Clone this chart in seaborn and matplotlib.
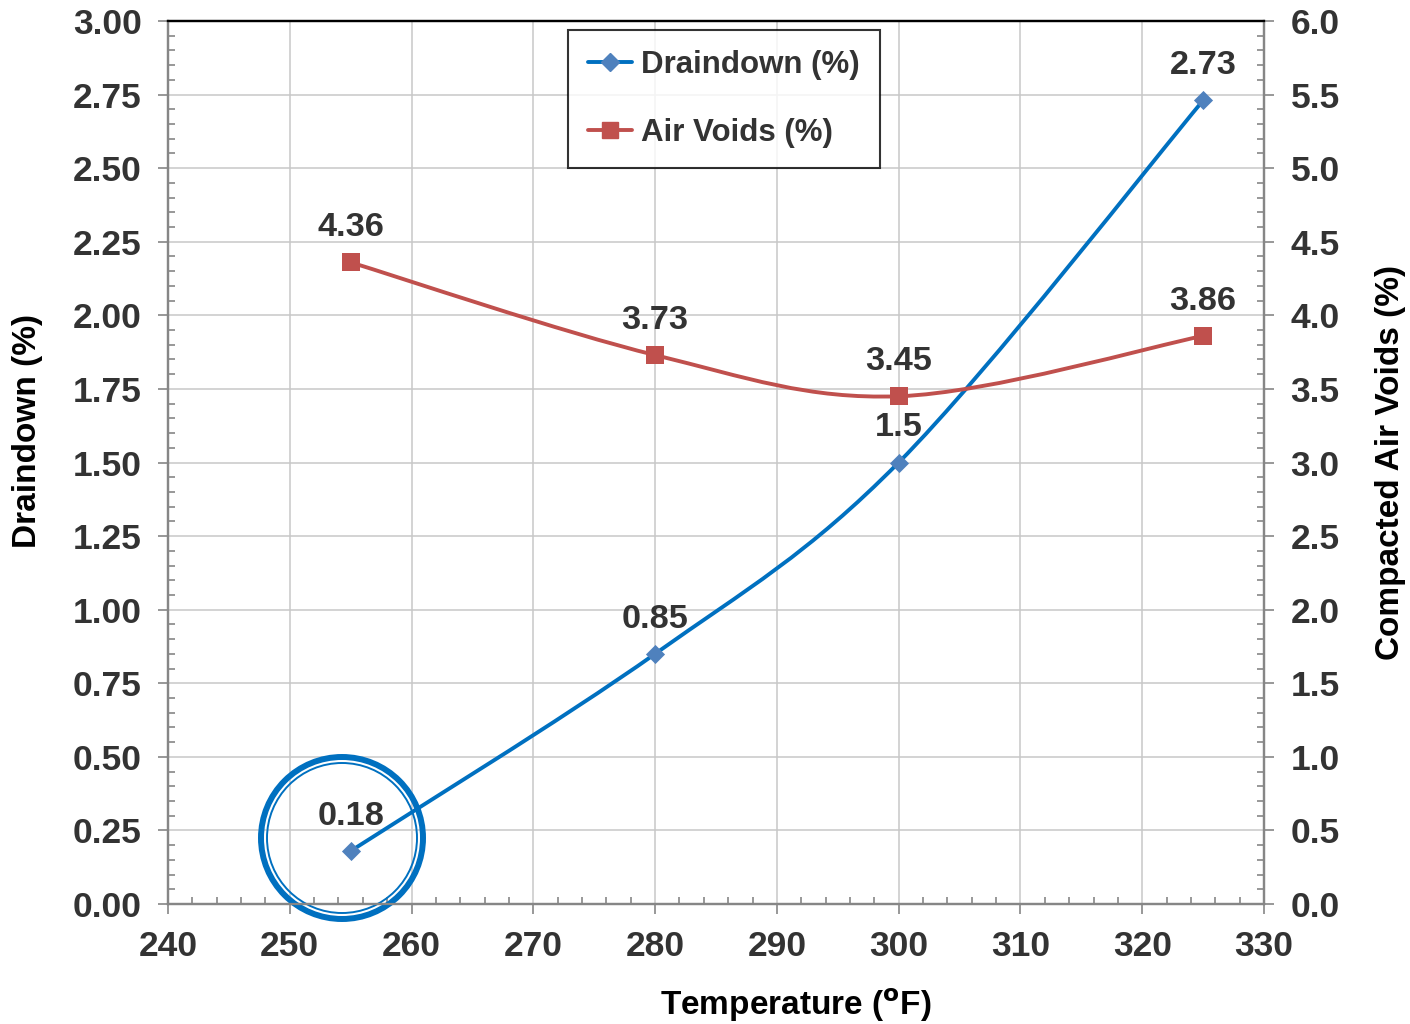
import numpy as np
import pandas as pd
import seaborn as sns
import matplotlib
matplotlib.use("Agg")
import matplotlib.pyplot as plt
from matplotlib.path import Path
from matplotlib.patches import PathPatch, Ellipse
from matplotlib.lines import Line2D
from matplotlib.ticker import MultipleLocator, FormatStrFormatter

# ---- data ----
temperature = [255, 280, 300, 325]
draindown = [0.18, 0.85, 1.5, 2.73]
air_voids = [4.36, 3.73, 3.45, 3.86]
draindown_labels = ["0.18", "0.85", "1.5", "2.73"]
air_void_labels = ["4.36", "3.73", "3.45", "3.86"]
series_names = ["Draindown (%)", "Air Voids (%)"]

sns.set_theme(style="white")
plt.rcParams["font.family"] = ["Liberation Sans", "DejaVu Sans"]
plt.rcParams["font.weight"] = "bold"

TXT = "#333333"
BLUE_LINE = "#0070C0"
BLUE_MK = "#4F81BD"
RED = "#C0504D"
GRAY = "#868686"

fig = plt.figure(figsize=(14.10, 10.24), dpi=100)
ax = fig.add_axes([168 / 1410, 1 - 904 / 1024, 1096 / 1410, 883 / 1024])
ax2 = ax.twinx()

XMIN, XMAX = 240, 330
ax.set_xlim(XMIN, XMAX)
ax.set_ylim(0, 3)
ax2.set_ylim(0, 6)

W, H = 1096.0, 883.0


def smooth_path(xs, ys, ymin, ymax):
    # Excel-style smoothed line: cubic Bezier segments computed in screen-like space
    px = [(x - XMIN) / (XMAX - XMIN) * W for x in xs]
    py = [(y - ymin) / (ymax - ymin) * H for y in ys]
    pts = list(zip(px, py))
    n = len(pts)
    verts = [pts[0]]
    codes = [Path.MOVETO]
    for i in range(n - 1):
        p0 = pts[i - 1] if i > 0 else pts[i]
        p1 = pts[i]
        p2 = pts[i + 1]
        p3 = pts[i + 2] if i + 2 < n else pts[i + 1]
        c1 = (p1[0] + (p2[0] - p0[0]) / 6, p1[1] + (p2[1] - p0[1]) / 6)
        c2 = (p2[0] - (p3[0] - p1[0]) / 6, p2[1] - (p3[1] - p1[1]) / 6)
        verts += [c1, c2, p2]
        codes += [Path.CURVE4] * 3
    back = [(XMIN + vx / W * (XMAX - XMIN), ymin + vy / H * (ymax - ymin)) for vx, vy in verts]
    return Path(back, codes)


# grid
ax.xaxis.set_major_locator(MultipleLocator(10))
ax.xaxis.set_minor_locator(MultipleLocator(2))
ax.yaxis.set_major_locator(MultipleLocator(0.25))
ax.yaxis.set_minor_locator(MultipleLocator(0.05))
ax.yaxis.set_major_formatter(FormatStrFormatter("%.2f"))
ax2.yaxis.set_major_locator(MultipleLocator(0.5))
ax2.yaxis.set_minor_locator(MultipleLocator(0.1))
ax2.yaxis.set_major_formatter(FormatStrFormatter("%.1f"))
ax.grid(True, which="major", color="#C8C8C8", linewidth=1.1)
ax.set_axisbelow(True)

# lines
ax.add_patch(PathPatch(smooth_path(temperature, draindown, 0, 3), facecolor="none",
                       edgecolor=BLUE_LINE, linewidth=2.8, zorder=3, capstyle="round"))
ax2.add_patch(PathPatch(smooth_path(temperature, air_voids, 0, 6), facecolor="none",
                        edgecolor=RED, linewidth=2.8, zorder=3, capstyle="round"))

# markers
df_d = pd.DataFrame({"T": temperature, "v": draindown})
df_a = pd.DataFrame({"T": temperature, "v": air_voids})
sns.scatterplot(data=df_d, x="T", y="v", ax=ax, marker="D", s=95, color=BLUE_MK,
                edgecolor=BLUE_MK, linewidth=0, zorder=4, legend=False)
sns.scatterplot(data=df_a, x="T", y="v", ax=ax2, marker="s", s=150, color=RED,
                edgecolor=RED, linewidth=0, zorder=4, legend=False)

# data labels
for x, y, lab in zip(temperature, draindown, draindown_labels):
    ax.annotate(lab, (x, y), xytext=(0, 25), textcoords="offset points", ha="center",
                va="center", fontsize=24.7, fontweight="bold", color=TXT, zorder=6)
for x, y, lab in zip(temperature, air_voids, air_void_labels):
    ax2.annotate(lab, (x, y), xytext=(0, 25), textcoords="offset points", ha="center",
                 va="center", fontsize=24.7, fontweight="bold", color=TXT, zorder=6)

# highlight circle
cx = XMIN + (342 - 168) / W * (XMAX - XMIN)
cy = (904 - 838) / H * 3
ax.add_patch(Ellipse((cx, cy), 2 * 81 / W * (XMAX - XMIN), 2 * 81 / H * 3, facecolor="none",
                     edgecolor=BLUE_LINE, linewidth=4.3, clip_on=False, zorder=5))
ax.add_patch(Ellipse((cx, cy), 2 * 75 / W * (XMAX - XMIN), 2 * 75 / H * 3, facecolor="none",
                     edgecolor=BLUE_LINE, linewidth=1.4, clip_on=False, zorder=5))

# ticks / spines
for a in (ax, ax2):
    for side in ("left", "right", "bottom"):
        a.spines[side].set_color(GRAY)
        a.spines[side].set_linewidth(1.6)
    a.spines["top"].set_color("black")
    a.spines["top"].set_linewidth(1.6)
ax.tick_params(axis="both", which="major", direction="out", length=7, width=1.2, color=GRAY,
               labelsize=25.5, labelcolor=TXT, pad=12)
ax.tick_params(axis="both", which="minor", direction="in", length=5, width=1.2, color=GRAY)
ax.tick_params(axis="y", which="both", left=True, right=False)
ax.tick_params(axis="x", which="both", bottom=True, top=False)
ax2.tick_params(axis="y", which="major", direction="out", length=7, width=1.2, color=GRAY,
                labelsize=25.5, labelcolor=TXT, pad=12, right=True)
ax2.tick_params(axis="y", which="minor", direction="in", length=5, width=1.2, color=GRAY, right=True)
for lab in ax.get_xticklabels() + ax.get_yticklabels() + ax2.get_yticklabels():
    lab.set_fontweight("bold")

ax.set_xlabel("Temperature ($^{\\mathbf{o}}$F)", fontsize=24, fontweight="bold", color="black")
ax.xaxis.label.set_va("center")
ax.xaxis.set_label_coords((796 - 168) / W, (904 - 1005) / H)
ax.set_ylabel("Draindown (%)", fontsize=24, fontweight="bold", color="black")
ax.yaxis.label.set_va("center")
ax.yaxis.set_label_coords((28 - 168) / W, (904 - 431) / H)
ax2.set_ylabel("Compacted Air Voids (%)", fontsize=24, fontweight="bold", color="black")
ax2.yaxis.label.set_va("center")
ax2.yaxis.set_label_coords((1390 - 168) / W, 0.5)

# legend
handles = [
    Line2D([0], [0], color=BLUE_LINE, linewidth=2.8, marker="D", markersize=9,
           markerfacecolor=BLUE_MK, markeredgecolor=BLUE_MK),
    Line2D([0], [0], color=RED, linewidth=2.8, marker="s", markersize=11,
           markerfacecolor=RED, markeredgecolor=RED),
]
leg = ax2.legend(handles, series_names, loc="upper left",
                 bbox_to_anchor=((568 - 168) / W, (904 - 30) / H),
                 prop={"size": 22.5, "weight": "bold"}, frameon=True, fancybox=False,
                 edgecolor="black", handlelength=1.4, handletextpad=0.3, labelspacing=1.2,
                 borderpad=0.65, borderaxespad=0)
leg.get_frame().set_linewidth(1.5)
for t in leg.get_texts():
    t.set_color(TXT)

fig.savefig("out.png", dpi=100, facecolor="white")
